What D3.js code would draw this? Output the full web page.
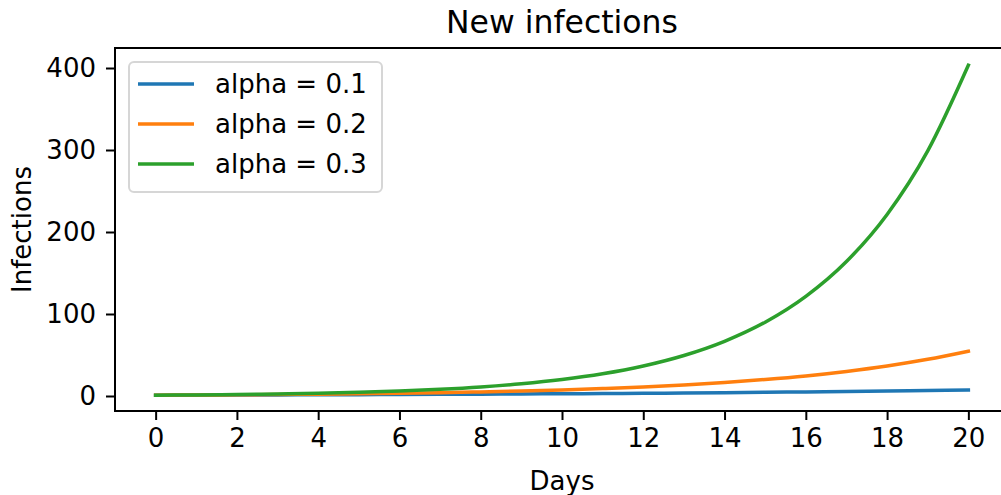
<!DOCTYPE html>
<html>
<head>
<meta charset="utf-8">
<script src="https://cdn.jsdelivr.net/npm/d3@7"></script>
<style>
  body { margin: 0; background: #fff; }
  svg { display: block; font-family: "DejaVu Sans", sans-serif; }
</style>
</head>
<body>
<div id="chart"></div>
<script>
// data, one value per day
const days = [0, 1, 2, 3, 4, 5, 6, 7, 8, 9, 10, 11, 12, 13, 14, 15, 16, 17, 18, 19, 20];
const alpha01 = [1, 1.11, 1.22, 1.35, 1.49, 1.65, 1.82, 2.01, 2.23, 2.46, 2.72, 3.0, 3.32, 3.67, 4.06, 4.48, 4.95, 5.47, 6.05, 6.69, 7.39];
const alpha02 = [1, 1.22, 1.49, 1.82, 2.23, 2.72, 3.32, 4.06, 4.95, 6.05, 7.39, 9.03, 11.0, 13.5, 16.4, 20.1, 24.5, 30.0, 36.6, 44.7, 54.6];
const alpha03 = [1, 1.35, 1.82, 2.46, 3.32, 4.48, 6.05, 8.17, 11.0, 14.9, 20.1, 27.1, 36.6, 49.4, 66.7, 90.0, 121.5, 164.0, 221.4, 298.9, 403.4];
const seriesNames = ["alpha = 0.1", "alpha = 0.2", "alpha = 0.3"];
const seriesValues = [alpha01, alpha02, alpha03];
const colors = ["#1f77b4", "#ff7f0e", "#2ca02c"];
const xTicks = [0, 2, 4, 6, 8, 10, 12, 14, 16, 18, 20];
const yTicks = [0, 100, 200, 300, 400];

const width = 1001, height = 495;
const margin = { top: 48, left: 115, right: -8, bottom: 84 };

const svg = d3.select("#chart").append("svg")
  .attr("width", width).attr("height", height);

const x = d3.scaleLinear().domain([-1, 21]).range([margin.left, width - margin.right]);
const y = d3.scaleLinear().domain([-18.3, 424.4]).range([height - margin.bottom, margin.top]);

// lines
const line = d3.line()
  .x((d, i) => x(days[i]))
  .y(d => y(d))
  .curve(d3.curveMonotoneX);

svg.append("g")
  .selectAll("path")
  .data(seriesValues)
  .join("path")
  .attr("fill", "none")
  .attr("stroke", (d, i) => colors[i])
  .attr("stroke-width", 3.5)
  .attr("stroke-linecap", "square")
  .attr("d", line);

// axes
const xAxis = svg.append("g")
  .attr("transform", `translate(0,${height - margin.bottom})`)
  .call(d3.axisBottom(x).tickValues(xTicks).tickSize(9).tickPadding(9).tickSizeOuter(0));

const yAxis = svg.append("g")
  .attr("transform", `translate(${margin.left},0)`)
  .call(d3.axisLeft(y).tickValues(yTicks).tickSize(9).tickPadding(10).tickSizeOuter(0));

[xAxis, yAxis].forEach(g => {
  g.selectAll(".domain").remove();
  g.selectAll(".tick line").attr("stroke", "#000").attr("stroke-width", 2);
  g.selectAll(".tick text")
    .attr("fill", "#000")
    .style("font-size", "26px")
    .style("font-family", "DejaVu Sans, sans-serif");
});
xAxis.selectAll(".tick text").attr("dy", "0.71em");

// spines
svg.append("rect")
  .attr("x", margin.left).attr("y", margin.top)
  .attr("width", width - margin.right - margin.left)
  .attr("height", height - margin.bottom - margin.top)
  .attr("fill", "none").attr("stroke", "#000").attr("stroke-width", 2);

// title and labels
svg.append("text")
  .attr("x", (margin.left + width - margin.right) / 2).attr("y", 33)
  .attr("text-anchor", "middle")
  .style("font-size", "31.5px")
  .text("New infections");

svg.append("text")
  .attr("x", (margin.left + width - margin.right) / 2).attr("y", 490)
  .attr("text-anchor", "middle")
  .style("font-size", "26px")
  .text("Days");

svg.append("text")
  .attr("transform", `translate(31,${(margin.top + height - margin.bottom) / 2}) rotate(-90)`)
  .attr("text-anchor", "middle")
  .style("font-size", "26px")
  .text("Infections");

// legend
const legend = svg.append("g");
legend.append("rect")
  .attr("x", 129).attr("y", 62)
  .attr("width", 253).attr("height", 130)
  .attr("rx", 5)
  .attr("fill", "#fff").attr("fill-opacity", 0.8)
  .attr("stroke", "#d6d6d6").attr("stroke-width", 2);

const items = legend.selectAll("g.item")
  .data(seriesNames)
  .join("g")
  .attr("class", "item")
  .attr("transform", (d, i) => `translate(0,${84 + i * 40})`);

items.append("line")
  .attr("x1", 138).attr("x2", 194)
  .attr("stroke", (d, i) => colors[i])
  .attr("stroke-width", 3.5);

items.append("text")
  .attr("x", 215).attr("dy", "0.36em")
  .style("font-size", "26px")
  .text(d => d);
</script>
</body>
</html>
